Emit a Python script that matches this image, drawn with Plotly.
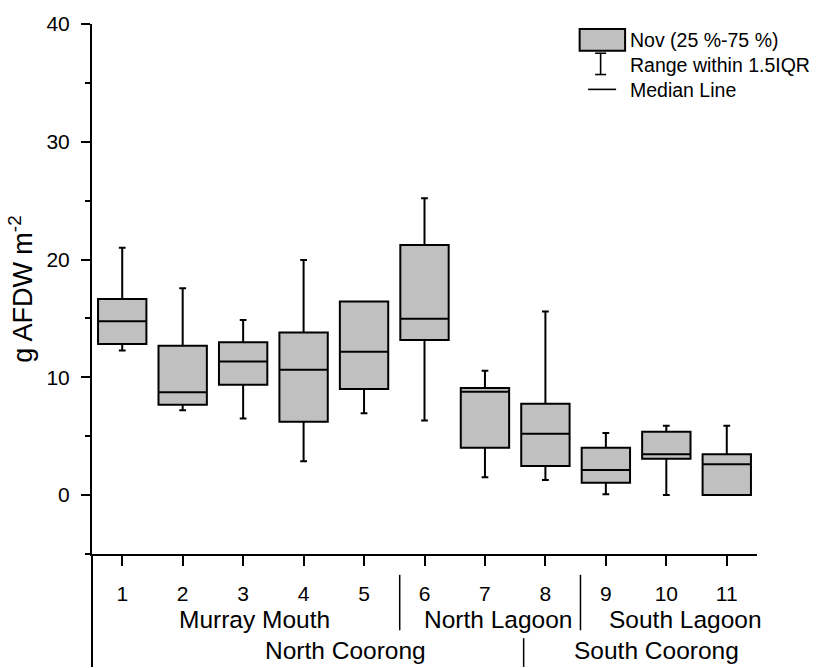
import plotly.graph_objects as go

# ---- data ----
sites = [1, 2, 3, 4, 5, 6, 7, 8, 9, 10, 11]
site_labels = ["1", "2", "3", "4", "5", "6", "7", "8", "9", "10", "11"]
q1 = [12.83, 7.67, 9.36, 6.22, 9.02, 13.17, 4.03, 2.47, 1.06, 3.08, 0.0]
median = [14.76, 8.74, 11.34, 10.64, 12.18, 14.98, 8.77, 5.21, 2.13, 3.47, 2.63]
q3 = [16.66, 12.69, 12.97, 13.81, 16.44, 21.23, 9.10, 7.76, 4.03, 5.38, 3.47]
lower = [12.27, 7.20, 6.50, 2.88, 6.95, 6.33, 1.51, 1.29, 0.08, 0.0, 0.0]
upper = [21.00, 17.56, 14.87, 19.97, 16.44, 25.20, 10.56, 15.60, 5.27, 5.88, 5.88]

y_ticks = [0, 10, 20, 30, 40]
region_labels = ["Murray Mouth", "North Lagoon", "South Lagoon"]
region_pos = [3.18, 7.21, 10.31]
zone_labels = ["North Coorong", "South Coorong"]
zone_pos = [4.69, 9.83]
legend_texts = ["Nov (25 %-75 %)", "Range within 1.5IQR", "Median Line"]

FONT = "Liberation Sans, Arial, sans-serif"
BOXFILL = "#C0C0C0"
LW = 2

fig = go.Figure()
fig.add_trace(go.Box(
    x=sites, q1=q1, median=median, q3=q3,
    lowerfence=lower, upperfence=upper,
    fillcolor=BOXFILL, line=dict(color="black", width=LW),
    width=0.8, whiskerwidth=0.14, boxpoints=False, showlegend=False,
))

fig.update_layout(
    width=819, height=668,
    margin=dict(l=91.5, r=62, t=19, b=114),
    plot_bgcolor="white", paper_bgcolor="white",
    font=dict(family=FONT, color="black", size=20),
    showlegend=False,
)
fig.update_xaxes(
    range=[0.5, 11.5], tickvals=sites, ticktext=site_labels,
    showline=True, linecolor="black", linewidth=LW,
    ticks="outside", ticklen=10, tickwidth=LW, tickcolor="black",
    showgrid=False, zeroline=False, ticklabelstandoff=10,
    tickfont=dict(size=21, family=FONT),
)
fig.update_yaxes(
    range=[-5, 40], tickvals=y_ticks,
    showline=True, linecolor="black", linewidth=LW,
    ticks="outside", ticklen=9, tickwidth=LW, tickcolor="black",
    minor=dict(dtick=5, tick0=0, ticks="outside", ticklen=5, tickwidth=LW, tickcolor="black"),
    showgrid=False, zeroline=False, ticklabelstandoff=7,
    tickfont=dict(size=21, family=FONT),
    title=dict(text="g AFDW m<sup>-2</sup>", font=dict(size=27, family=FONT), standoff=6),
)

def pyp(py):
    # pixel y -> paper y
    return (554 - py) / 535.0

def pxp(px):
    return (px - 91.5) / 665.5

shapes = []
# left axis extension down through the label area
shapes.append(dict(type="line", xref="paper", yref="paper", x0=0, x1=0,
                   y0=0, y1=pyp(668), line=dict(color="black", width=LW)))
# group separators
for xs in [5.59, 8.58]:
    shapes.append(dict(type="line", xref="x", yref="paper", x0=xs, x1=xs,
                       y0=pyp(575), y1=pyp(631), line=dict(color="black", width=1.5)))
shapes.append(dict(type="line", xref="x", yref="paper", x0=7.64, x1=7.64,
                   y0=pyp(639), y1=pyp(668), line=dict(color="black", width=1.5)))
# legend symbols
shapes.append(dict(type="rect", xref="paper", yref="paper",
                   x0=pxp(579.5), x1=pxp(625), y0=pyp(46), y1=pyp(24),
                   fillcolor=BOXFILL, line=dict(color="black", width=LW)))
shapes.append(dict(type="line", xref="paper", yref="paper", x0=pxp(600.5), x1=pxp(600.5),
                   y0=pyp(48.5), y1=pyp(70), line=dict(color="black", width=1.6)))
for yy in [48.5, 70]:
    shapes.append(dict(type="line", xref="paper", yref="paper", x0=pxp(595), x1=pxp(606),
                       y0=pyp(yy), y1=pyp(yy), line=dict(color="black", width=1.6)))
shapes.append(dict(type="line", xref="paper", yref="paper", x0=pxp(588), x1=pxp(616),
                   y0=pyp(85), y1=pyp(85), line=dict(color="black", width=1.6)))
fig.update_layout(shapes=shapes)

annotations = []
for t, xp in zip(region_labels, region_pos):
    annotations.append(dict(text=t, x=xp, xref="x", y=pyp(620), yref="paper",
                            showarrow=False, xanchor="center", yanchor="middle",
                            font=dict(size=24.5, family=FONT)))
for t, xp in zip(zone_labels, zone_pos):
    annotations.append(dict(text=t, x=xp, xref="x", y=pyp(651), yref="paper",
                            showarrow=False, xanchor="center", yanchor="middle",
                            font=dict(size=24.5, family=FONT)))
for t, yy in zip(legend_texts, [35, 60, 86]):
    annotations.append(dict(text=t, x=pxp(628), xref="paper", y=pyp(yy), yref="paper",
                            showarrow=False, xanchor="left", yanchor="middle",
                            font=dict(size=19.5, family=FONT)))
fig.update_layout(annotations=annotations)

fig.write_html("out.html")
